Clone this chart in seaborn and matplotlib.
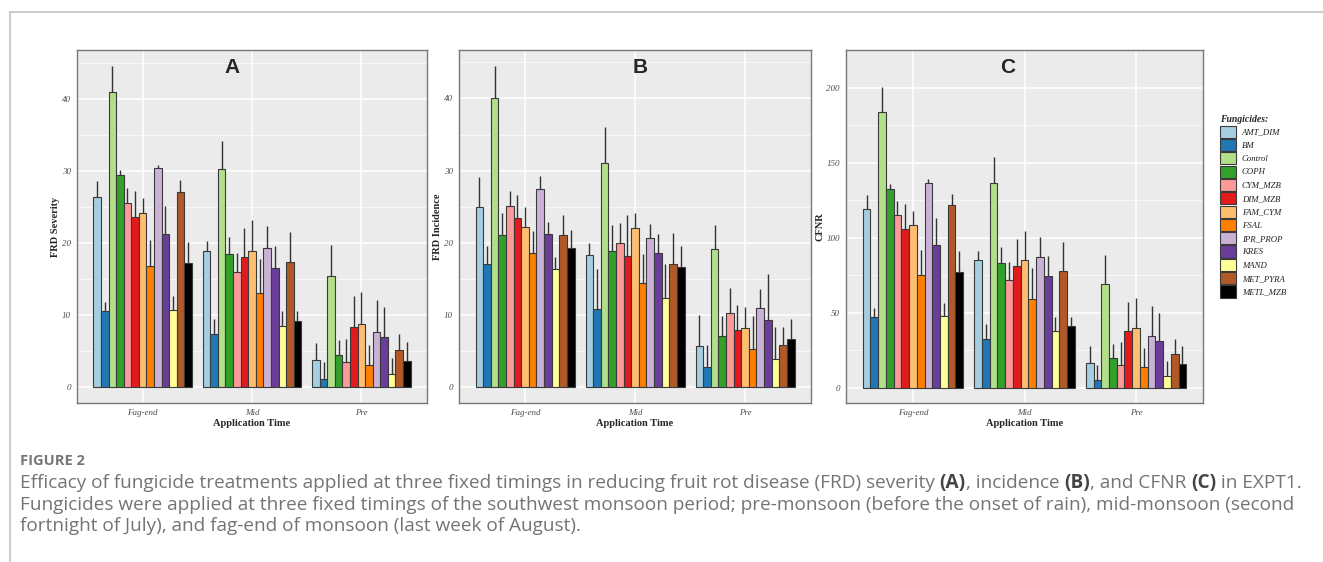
import numpy as np
import pandas as pd
import matplotlib
matplotlib.use("Agg")
import matplotlib.pyplot as plt
import seaborn as sns
from matplotlib.patches import Patch
from matplotlib.lines import Line2D

# ---------------- data ----------------
fungicides = ["AMT_DIM", "BM", "Control", "COPH", "CYM_MZB", "DIM_MZB", "FAM_CYM",
              "FSAL", "IPR_PROP", "KRES", "MAND", "MET_PYRA", "METL_MZB"]
times = ["Fag-end", "Mid", "Pre"]
palette = ["#A6CEE3", "#1F78B4", "#B2DF8A", "#33A02C", "#FB9A99", "#E31A1C", "#FDBF6F",
           "#FF7F00", "#CAB2D6", "#6A3D9A", "#FFFF99", "#B15928", "#000000"]

# Panel A: FRD Severity (mean, top of error bar) per timing, in fungicide order
sev_fag = [26.4, 10.6, 41.0, 29.5, 25.6, 23.6, 24.2, 16.8, 30.4, 21.2, 10.7, 27.1, 17.2]
sev_fag_top = [28.6, 11.8, 44.6, 30.2, 27.6, 27.2, 26.2, 20.4, 30.9, 25.1, 12.7, 28.8, 20.2]
sev_mid = [18.9, 7.3, 30.3, 18.5, 16.0, 18.0, 18.9, 13.1, 19.3, 16.6, 8.5, 17.4, 9.2]
sev_mid_top = [20.3, 9.5, 34.2, 20.9, 18.6, 22.1, 23.2, 17.8, 22.4, 19.6, 10.5, 21.5, 10.5]
sev_pre = [3.7, 1.1, 15.4, 4.4, 3.4, 8.4, 8.8, 3.1, 7.7, 7.0, 1.8, 5.1, 3.6]
sev_pre_top = [6.1, 3.4, 19.7, 6.5, 6.7, 12.7, 13.2, 5.8, 12.1, 11.1, 4.0, 7.3, 6.3]

# Panel B: FRD Incidence
inc_fag = [24.9, 17.0, 40.1, 21.1, 25.1, 23.4, 22.2, 18.6, 27.5, 21.2, 16.3, 21.1, 19.3]
inc_fag_top = [29.1, 19.6, 44.5, 24.1, 27.2, 26.6, 25.0, 21.6, 29.3, 22.9, 18.0, 23.8, 21.7]
inc_mid = [18.3, 10.8, 31.0, 18.9, 20.0, 18.1, 22.0, 14.4, 20.6, 18.6, 12.3, 17.0, 16.6]
inc_mid_top = [20.0, 16.3, 36.1, 22.4, 22.8, 23.8, 24.1, 18.4, 22.6, 21.2, 17.0, 21.3, 19.6]
inc_pre = [5.7, 2.7, 19.1, 7.1, 10.3, 7.9, 8.2, 5.2, 10.9, 9.3, 3.9, 5.8, 6.6]
inc_pre_top = [10.0, 5.8, 22.5, 9.8, 13.7, 11.4, 11.1, 9.8, 13.6, 15.7, 8.3, 8.3, 9.4]

# Panel C: CFNR
cf_fag = [119.0, 47.5, 184.0, 132.5, 115.0, 106.0, 108.5, 75.5, 136.5, 95.5, 47.8, 122.0, 77.0]
cf_fag_top = [128.6, 53.3, 200.6, 135.9, 124.3, 122.2, 117.8, 91.9, 139.0, 112.9, 56.8, 129.3, 90.9]
cf_mid = [85.0, 32.5, 136.5, 83.5, 72.0, 81.0, 85.0, 59.0, 87.0, 74.5, 38.0, 78.0, 41.3]
cf_mid_top = [91.3, 42.5, 153.7, 94.0, 83.6, 99.2, 104.8, 80.1, 100.6, 88.0, 47.3, 96.9, 47.3]
cf_pre = [16.7, 5.0, 69.2, 19.6, 15.0, 38.0, 40.0, 13.8, 34.5, 31.2, 8.2, 22.7, 16.1]
cf_pre_top = [27.6, 15.4, 88.6, 29.3, 30.3, 57.1, 59.8, 26.3, 54.6, 50.0, 18.0, 32.8, 28.2]

panels = [
    ("A", "FRD Severity", [sev_fag, sev_mid, sev_pre], [sev_fag_top, sev_mid_top, sev_pre_top], [0, 10, 20, 30, 40]),
    ("B", "FRD Incidence", [inc_fag, inc_mid, inc_pre], [inc_fag_top, inc_mid_top, inc_pre_top], [0, 10, 20, 30, 40]),
    ("C", "CFNR", [cf_fag, cf_mid, cf_pre], [cf_fag_top, cf_mid_top, cf_pre_top], [0, 50, 100, 150, 200]),
]

# ---------------- figure ----------------
sns.set_theme(style="white")
plt.rcParams["font.family"] = ["Liberation Serif", "DejaVu Serif"]

W, H = 1323, 562
fig = plt.figure(figsize=(W / 100, H / 100), dpi=100)

ax_px = [(77, 50, 427, 403), (459, 50, 811, 403), (846, 50, 1203, 403)]
letter_x = [0.443, 0.514, 0.454]

for i, (letter, ylabel, means, tops, yticks) in enumerate(panels):
    x0, y0, x1, y1 = ax_px[i]
    ax = fig.add_axes([x0 / W, 1 - y1 / H, (x1 - x0) / W, (y1 - y0) / H])
    rows = []
    for t, m_list, e_list in zip(times, means, tops):
        for f, m, e in zip(fungicides, m_list, e_list):
            rows.append({"Time": t, "Fungicide": f, "value": m, "top": e})
    df = pd.DataFrame(rows)
    sns.barplot(data=df, x="Time", y="value", hue="Fungicide", order=times,
                hue_order=fungicides, palette=palette, saturation=1, width=0.9, gap=0,
                edgecolor="#3a3a3a", linewidth=0.8, errorbar=None, legend=False,
                ax=ax, zorder=3)
    # one-sided error bars at the bar centres given by seaborn
    for h, cont in enumerate(ax.containers):
        for t_i, bar in enumerate(cont):
            xc = bar.get_x() + bar.get_width() / 2
            top = tops[t_i][h]
            ax.vlines(xc, bar.get_height(), top, color="#333333", lw=1.0, zorder=4)
    hi = max(max(t) for t in tops)
    pad = 0.05 * hi
    ax.set_ylim(-pad, hi + pad)
    ax.set_xlim(-0.6, 2.6)
    ax.set_facecolor("#EBEBEB")
    ax.set_yticks(yticks)
    minor = [(yticks[k] + yticks[k + 1]) / 2 for k in range(len(yticks) - 1)]
    minor.append(yticks[-1] + (yticks[1] - yticks[0]) / 2)
    ax.set_yticks(minor, minor=True)
    ax.grid(True, which="major", color="white", lw=1.1, zorder=0)
    ax.grid(True, which="minor", axis="y", color="white", lw=0.5, zorder=0)
    ax.set_axisbelow(True)
    for s in ax.spines.values():
        s.set_color("#777777")
        s.set_linewidth(1.0)
        s.set_visible(True)
    ax.tick_params(axis="both", which="major", length=2.5, width=0.6, color="#333333",
                   labelsize=6.5, labelcolor="#4D4D4D", pad=2)
    ax.tick_params(axis="both", which="minor", length=0)
    for lab in ax.get_xticklabels() + ax.get_yticklabels():
        lab.set_fontstyle("italic")
    ax.set_xlabel("Application Time", fontsize=7.5, fontweight="bold", labelpad=1)
    ax.set_ylabel(ylabel, fontsize=7.5, fontweight="bold", labelpad=1)
    ax.text(letter_x[i], 0.95, letter, transform=ax.transAxes, ha="center", va="center",
            fontsize=15, fontweight="bold", family=["Liberation Sans", "DejaVu Sans"])

handles = [Patch(facecolor=c, edgecolor="#3a3a3a", lw=0.8, label=f) for c, f in zip(palette, fungicides)]
leg = fig.legend(handles=handles, loc="upper left", bbox_to_anchor=(1216 / W, 1 - 111 / H),
                 frameon=False, prop={"size": 6.3, "style": "italic"},
                 title="Fungicides:", title_fontproperties={"size": 7, "style": "italic", "weight": "bold"},
                 handlelength=1.75, handleheight=1.75, labelspacing=0.14, handletextpad=0.7,
                 borderpad=0, alignment="left")
for t in leg.get_texts():
    t.set_color("#222222")

# page frame lines
fig.add_artist(Line2D([9.5 / W, 1], [1 - 12 / H, 1 - 12 / H], color="#C4C4C4", lw=1.2))
fig.add_artist(Line2D([9.5 / W, 9.5 / W], [0, 1 - 12 / H], color="#C4C4C4", lw=1.2))

# caption
cap_font = ["Open Sans", "DejaVu Sans"]
fig.text(20 / W, 1 - 461 / H, "FIGURE 2", fontsize=10.5, color="#777777", va="center",
         family=cap_font, fontweight="bold")

renderer = fig.canvas.get_renderer()

line1 = [
    ("Efficacy of fungicide treatments applied at three fixed timings in reducing fruit rot disease (FRD) severity ", False),
    ("(A)", True), (", incidence ", False), ("(B)", True), (", and CFNR ", False), ("(C)", True),
    (" in EXPT1.", False)]


def rich_line(x_px, y_px, pieces, size):
    x = x_px
    for txt, bold in pieces:
        t = fig.text(x / W, 1 - y_px / H, txt, fontsize=size, va="center", ha="left",
                     family=cap_font, color="#444444" if bold else "#747474",
                     fontweight="bold" if bold else "normal")
        bb = t.get_window_extent(renderer=renderer)
        x += bb.width
    return x - x_px


# measure line 1 at a trial size to fit the reference width (~1285 px)
probe = fig.text(0, 0, "".join(p for p, _ in line1), fontsize=12, family=cap_font)
wprobe = probe.get_window_extent(renderer=renderer).width
probe.remove()
cap_size = 12 * 1268 / wprobe

rich_line(20, 483, line1, cap_size)
rich_line(20, 505, [("Fungicides were applied at three fixed timings of the southwest monsoon period; pre-monsoon (before the onset of rain), mid-monsoon (second", False)], cap_size)
rich_line(20, 526, [("fortnight of July), and fag-end of monsoon (last week of August).", False)], cap_size)

fig.savefig("out.png", dpi=100)
